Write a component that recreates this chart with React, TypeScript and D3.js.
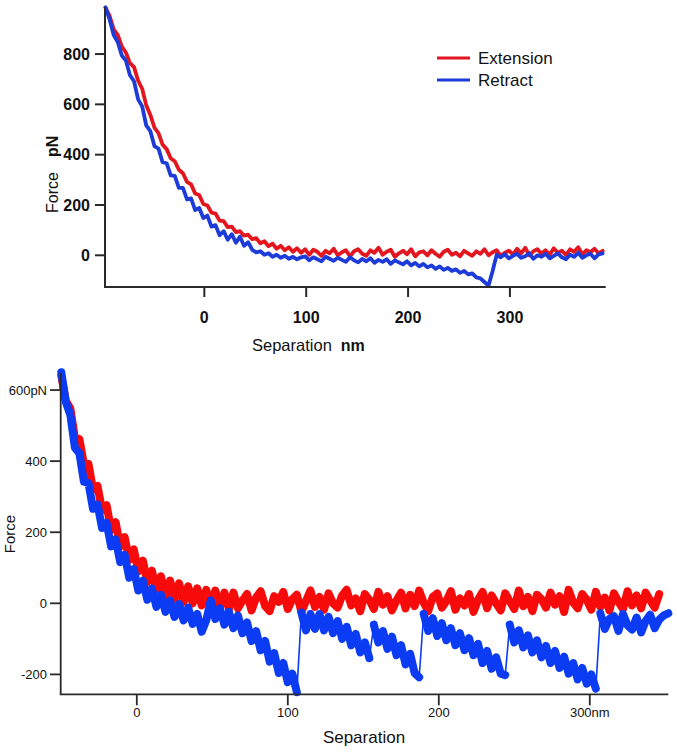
import React from "react";
import * as d3 from "d3";

// ---------- TOP PANEL DATA (separation nm, force pN) ----------
const TOP_X0 = -97;
const TOP_STEP = 4;
const TOP_EXT = [
  985, 952, 898, 876, 830, 806, 764, 748, 694, 662,
  596, 558, 508, 486, 440, 422, 386, 374, 340, 326,
  292, 282, 246, 240, 204, 198, 170, 166, 138, 136,
  112, 114, 92, 96, 78, 82, 64, 68, 48, 56,
  36, 46, 26, 38, 20, 32, 14, 28, 10, 24,
  2, 22, 14, -2, 18, 8, 26, 0, 12, 20,
  -4, 16, 24, 6, -2, 20, 10, 30, 2, 14,
  22, -6, 8, 18, 4, 24, -4, 12, 16, 0,
  20, 6, -6, 14, 22, 2, 10, -4, 18, 8,
  -2, 16, 6, 24, 0, 12, 20, -2, 10, 18,
  4, 26, 8, 30, 0, 16, 24, 6, 20, 2,
  28, 10, 18, 2, 24, 14, 32, 4, 20, 12,
  26, 8, 18,
];
const TOP_RET = [
  985, 938, 876, 848, 794, 774, 716, 692, 620, 592,
  516, 494, 434, 424, 370, 366, 318, 316, 268, 268,
  222, 226, 180, 188, 148, 158, 114, 120, 80, 96,
  62, 84, 50, 74, 38, 52, 22, 12, 16, 2,
  8, -6, 2, -10, -2, -14, -6, -16, -8, -4,
  -20, -8, -16, -24, -6, -14, -22, -10, -18, -26,
  -8, -20, -28, -14, -24, -12, -30, -18, -26, -16,
  -34, -20, -28, -36, -24, -40, -30, -44, -34, -48,
  -40, -54, -44, -58, -50, -62, -56, -70, -62, -76,
  -72, -88, -92, -106, -120, -62, 2, -8, 4, -12,
  -2, 6, -10, -4, 8, -14, 0, -6, 6, -12,
  -2, 8, -8, -16, 2, -6, 10, -10, 0, 6,
  -12, 4, 8,
];
const TOP_X_TICKS = [0, 100, 200, 300];
const TOP_Y_TICKS = [0, 200, 400, 600, 800];
const TOP_SERIES = ["Extension", "Retract"];

// ---------- BOTTOM PANEL DATA ----------
const BOT_X0 = -50;
const BOT_STEP = 3;
const BOT_EXT = [
  640, 570, 548, 466, 462, 390, 392, 320, 330, 262,
  276, 206, 228, 160, 186, 122, 152, 90, 120, 60,
  92, 38, 76, 22, 64, 12, 56, 4, 48, 0,
  42, -6, 38, -10, 36, -12, 30, -16,
  30, -14, 8, 26, -20, 16, 34, -8, -22, 20,
  4, 32, -16, 12, 24, -24, 6, 36, -10, 18,
  -18, 28, 0, -12, 22, 38, -6, 14, -22, 26,
  10, -16, 32, -4, 20, -20, 8, 30, -14, 24,
  -8, 36, 2, -22, 18, 28, -12, 6, 34, -18,
  14, -6, 26, -24, 10, 32, -14, 22, 0, -20,
  28, 6, -16, 36, -8, 18, -22, 24, 12, -12,
  30, -4, 20, -24, 38, 2, -14, 26, 10, -18,
  32, -10, 16, -20, 28, 4, -16, 34, -6, 22,
  -14, 30, 8, -12, 26,
];
const BOT_RET = [
  650, 566, 530, 438, 422, 342, 338, 266, 278, 212,
  226, 160, 180, 116, 136, 72, 96, 36, 64, 10,
  42, -10, 24, -24, 8, -38, -2, -48, -12, -58,
  -30, -80, -48, 8, -44, -14, -60, -24, -70, -34,
  -84, -54, -106, -78, -132, -106, -164, -140, -196, -168,
  -222, -198, -250,
  -26, -76, -30, -72, -30, -76, -38, -84, -50, -100,
  -66, -118, -86, -138, -110, -154,
  -60, -110, -78, -128, -94, -146, -118, -172, -142, -196,
  -208,
  -30, -78, -42, -92, -56, -104, -70, -118, -84, -132,
  -98, -146, -114, -168, -134, -184, -152, -198, -202,
  -60, -110, -76, -124, -90, -138, -104, -152, -120, -168,
  -134, -182, -150, -198, -168, -214, -182, -226, -200, -240,
  -28, -72, -44, -36, -78, -30, -62, -74, -40, -82,
  -50, -32, -70, -46, -34, -28,
];
// indices after which the retract trace ruptures (jumps)
const BOT_RUPTURES = [52, 68, 79, 98, 118];
const BOT_X_TICKS = [0, 100, 200, 300];
const BOT_X_LABELS = ["0", "100", "200", "300nm"];
const BOT_Y_TICKS = [-200, 0, 200, 400, 600];
const BOT_Y_LABELS = ["-200", "0", "200", "400", "600pN"];

const FONT = "'Liberation Sans', Arial, Helvetica, sans-serif";
const TOP_RED = "#e3151f";
const TOP_BLUE = "#1c3bd8";
const BOT_RED = "#f60a0a";
const BOT_BLUE = "#0b3cf3";
const AXIS = "#2a2a2a";

type P = [number, number];

export default function App() {
  // ----- top scales -----
  const xT = d3.scaleLinear().domain([-97.5, 394]).range([105, 605.7]);
  const yT = d3.scaleLinear().domain([-126, 987]).range([287, 7]);
  const topPts = (arr: number[]): P[] => arr.map((v, i) => [TOP_X0 + i * TOP_STEP, v]);
  const lineT = d3
    .line<P>()
    .x((d) => xT(d[0]))
    .y((d) => yT(d[1]));

  // ----- bottom scales -----
  const xB = d3.scaleLinear().domain([-50.4, 352]).range([60.7, 668.3]);
  const yB = d3.scaleLinear().domain([-256, 648]).range([694.3, 373]);
  const botPts = (arr: number[]): P[] => arr.map((v, i) => [BOT_X0 + i * BOT_STEP, v]);
  const lineB = d3
    .line<P>()
    .x((d) => xB(d[0]))
    .y((d) => yB(d[1]));

  const retPts = botPts(BOT_RET);
  const bounds = [-1, ...BOT_RUPTURES, retPts.length - 1];
  const retSegs: P[][] = [];
  for (let k = 0; k < bounds.length - 1; k++) {
    retSegs.push(retPts.slice(bounds[k] + 1, bounds[k + 1] + 1));
  }

  const tBase = 287;
  const bBase = 694.3;

  return (
    <svg
      width={677}
      height={753}
      style={{ position: "absolute", left: 0, top: 0, background: "#fff" }}
      fontFamily={FONT}
    >
      {/* ================= TOP PANEL ================= */}
      <g>
        <path d={lineT(topPts(TOP_EXT)) || ""} fill="none" stroke={TOP_RED} strokeWidth={3.8} strokeLinejoin="round" strokeLinecap="round" />
        <path d={lineT(topPts(TOP_RET)) || ""} fill="none" stroke={TOP_BLUE} strokeWidth={3.8} strokeLinejoin="round" strokeLinecap="round" />
        {/* axes */}
        <line x1={105} x2={105} y1={yT(987)} y2={tBase} stroke={AXIS} strokeWidth={2} />
        <line x1={104} x2={605.7} y1={tBase} y2={tBase} stroke={AXIS} strokeWidth={2} />
        {TOP_Y_TICKS.map((t) => (
          <g key={"ty" + t}>
            <line x1={95} x2={105} y1={yT(t)} y2={yT(t)} stroke={AXIS} strokeWidth={2} />
            <text x={90} y={yT(t)} dy="0.36em" textAnchor="end" fontSize={16} fontWeight="bold" fill="#111">
              {t}
            </text>
          </g>
        ))}
        {TOP_X_TICKS.map((t) => (
          <g key={"tx" + t}>
            <line x1={xT(t)} x2={xT(t)} y1={tBase} y2={tBase + 10} stroke={AXIS} strokeWidth={2} />
            <text x={xT(t)} y={322.5} textAnchor="middle" fontSize={16} fontWeight="bold" fill="#111">
              {t}
            </text>
          </g>
        ))}
        <text x={252} y={351} fontSize={16.5} fill="#111">
          Separation
          <tspan dx={9} fontWeight="bold" fontSize={16}>
            nm
          </tspan>
        </text>
        <text transform="translate(58,213) rotate(-90)" fontSize={16} fill="#111">
          Force
          <tspan dx={15} fontWeight="bold">
            pN
          </tspan>
        </text>
        {/* legend */}
        {TOP_SERIES.map((s, i) => (
          <g key={s}>
            <line x1={437} x2={470} y1={58 + i * 22} y2={58 + i * 22} stroke={i === 0 ? TOP_RED : TOP_BLUE} strokeWidth={3} />
            <text x={478} y={64 + i * 22} fontSize={17} fill="#111">
              {s}
            </text>
          </g>
        ))}
      </g>

      {/* ================= BOTTOM PANEL ================= */}
      <g>
        <path d={lineB(botPts(BOT_EXT)) || ""} fill="none" stroke={BOT_RED} strokeWidth={8} strokeLinejoin="round" strokeLinecap="round" />
        {retSegs.map((seg, k) => (
          <path key={"seg" + k} d={lineB(seg) || ""} fill="none" stroke={BOT_BLUE} strokeWidth={8} strokeLinejoin="round" strokeLinecap="round" />
        ))}
        {BOT_RUPTURES.map((r) => (
          <line
            key={"rup" + r}
            x1={xB(retPts[r][0])}
            y1={yB(retPts[r][1])}
            x2={xB(retPts[r + 1][0])}
            y2={yB(retPts[r + 1][1])}
            stroke={BOT_BLUE}
            strokeWidth={1.6}
          />
        ))}
        {/* axes */}
        <line x1={60.7} x2={60.7} y1={373} y2={bBase} stroke={AXIS} strokeWidth={1.8} />
        <line x1={59.8} x2={668.3} y1={bBase} y2={bBase} stroke={AXIS} strokeWidth={1.8} />
        {BOT_Y_TICKS.map((t, i) => (
          <g key={"by" + t}>
            <line x1={50} x2={60.7} y1={yB(t)} y2={yB(t)} stroke={AXIS} strokeWidth={1.8} />
            <text x={47} y={yB(t)} dy="0.36em" textAnchor="end" fontSize={13} fill="#111">
              {BOT_Y_LABELS[i]}
            </text>
          </g>
        ))}
        {BOT_X_TICKS.map((t, i) => (
          <g key={"bx" + t}>
            <line x1={xB(t)} x2={xB(t)} y1={bBase} y2={bBase + 11} stroke={AXIS} strokeWidth={1.8} />
            <text x={xB(t)} y={716.5} textAnchor="middle" fontSize={13} fill="#111">
              {BOT_X_LABELS[i]}
            </text>
          </g>
        ))}
        <text x={364} y={743} textAnchor="middle" fontSize={17} fill="#111">
          Separation
        </text>
        <text transform="translate(15,534) rotate(-90)" textAnchor="middle" fontSize={15} fill="#111">
          Force
        </text>
      </g>
    </svg>
  );
}
